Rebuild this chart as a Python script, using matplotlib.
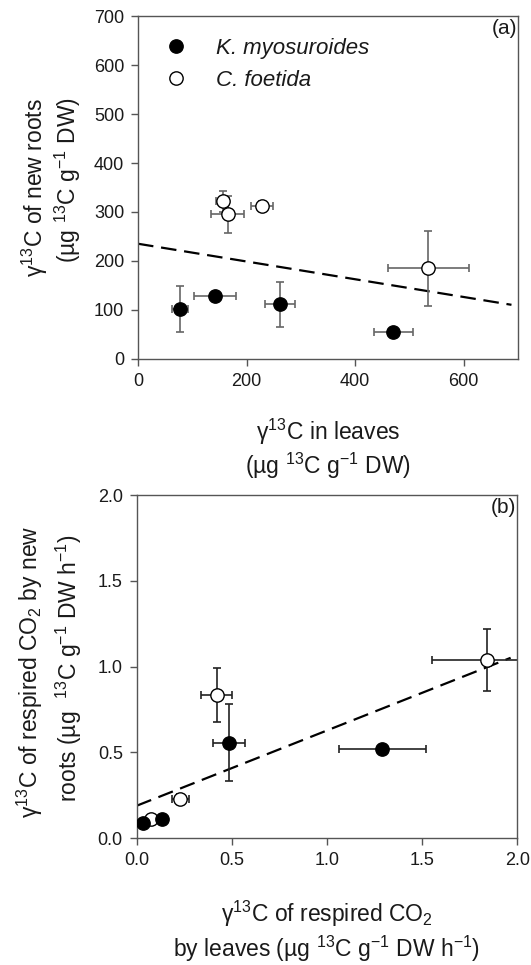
import numpy as np
import matplotlib
matplotlib.use("Agg")
import matplotlib.pyplot as plt

plt.rcParams['font.family'] = ['Liberation Sans', 'DejaVu Sans']
plt.rcParams['mathtext.fontset'] = 'custom'
plt.rcParams['mathtext.rm'] = 'Liberation Sans'
plt.rcParams['mathtext.it'] = 'Liberation Sans:italic'
plt.rcParams['mathtext.default'] = 'regular'

# ---- Panel (a) data ----
a_km_x = [77, 142, 262, 470]
a_km_xerr = [15, 38, 28, 36]
a_km_y = [102, 129, 112, 56]
a_km_yerr = [47, 8, 46, 6]

a_cf_x = [156, 165, 228, 535]
a_cf_xerr = [12, 31, 20, 74]
a_cf_y = [322, 295, 312, 185]
a_cf_yerr = [21, 37, 10, 77]

# ---- Panel (b) data ----
b_km_x = [0.485, 1.29, 0.135, 0.035]
b_km_xerr = [0.086, 0.228, 0.02, 0.01]
b_km_y = [0.557, 0.522, 0.114, 0.091]
b_km_yerr = [0.225, 0.02, 0.02, 0.02]

b_cf_x = [1.84, 0.42, 0.23, 0.073]
b_cf_xerr = [0.29, 0.08, 0.047, 0.02]
b_cf_y = [1.039, 0.835, 0.227, 0.11]
b_cf_yerr = [0.18, 0.16, 0.03, 0.02]

a_xticks = [0, 200, 400, 600]
a_yticks = [0, 100, 200, 300, 400, 500, 600, 700]
b_ticks = [0.0, 0.5, 1.0, 1.5, 2.0]

fig = plt.figure(figsize=(5.31, 9.65), dpi=100)
ax_a = fig.add_axes([0.2599, 0.6280, 0.7156, 0.3554])
ax_b = fig.add_axes([0.2574, 0.1313, 0.7168, 0.3557])

TXT = '#1a1a1a'
SPINE = '#555555'

def style(ax):
    for s in ax.spines.values():
        s.set_color(SPINE)
        s.set_linewidth(1.0)
    ax.tick_params(direction='out', length=5, width=1, color=SPINE,
                   labelsize=13, labelcolor=TXT, top=False, right=False, pad=5)

def draw(ax, kx, kxe, ky, kye, cx, cxe, cy, cye, ecol, fit_xmax):
    ax.errorbar(kx, ky, xerr=kxe, yerr=kye, fmt='none', ecolor=ecol,
                elinewidth=1.2, capsize=2.8, capthick=1.2, zorder=2)
    ax.errorbar(cx, cy, xerr=cxe, yerr=cye, fmt='none', ecolor=ecol,
                elinewidth=1.2, capsize=2.8, capthick=1.2, zorder=2)
    hk, = ax.plot(kx, ky, 'o', ms=9.6, mfc='black', mec='black', mew=1, ls='none', zorder=4)
    hc, = ax.plot(cx, cy, 'o', ms=9.6, mfc='white', mec='black', mew=1, ls='none', zorder=3)
    allx = np.array(kx + cx)
    ally = np.array(ky + cy)
    slope, icpt = np.polyfit(allx, ally, 1)
    xs = np.array([0, fit_xmax])
    ln, = ax.plot(xs, icpt + slope * xs, color='black', lw=1.6, zorder=1)
    ln.set_dashes([7, 3.5])
    return hk, hc

hk, hc = draw(ax_a, a_km_x, a_km_xerr, a_km_y, a_km_yerr,
              a_cf_x, a_cf_xerr, a_cf_y, a_cf_yerr, '#666666', 688)
ax_a.set_xlim(0, 700)
ax_a.set_ylim(0, 700)
ax_a.set_xticks(a_xticks)
ax_a.set_yticks(a_yticks)
style(ax_a)
ax_a.text(0.997, 0.99, '(a)', transform=ax_a.transAxes, ha='right', va='top',
          fontsize=15, color=TXT)
leg = ax_a.legend([hk, hc], ['K. myosuroides', 'C. foetida'], loc='upper left',
                  bbox_to_anchor=(0.047, 0.963), frameon=False,
                  prop={'style': 'italic', 'size': 16}, handlelength=1.0,
                  handletextpad=1.3, labelspacing=0.5, borderaxespad=0)
for t in leg.get_texts():
    t.set_color(TXT)

draw(ax_b, b_km_x, b_km_xerr, b_km_y, b_km_yerr,
     b_cf_x, b_cf_xerr, b_cf_y, b_cf_yerr, '#222222', 1.965)
ax_b.set_xlim(0, 2.0)
ax_b.set_ylim(0, 2.0)
ax_b.set_xticks(b_ticks)
ax_b.set_yticks(b_ticks)
ax_b.set_xticklabels(['%.1f' % v for v in b_ticks])
ax_b.set_yticklabels(['%.1f' % v for v in b_ticks])
style(ax_b)
ax_b.text(0.997, 0.99, '(b)', transform=ax_b.transAxes, ha='right', va='top',
          fontsize=15, color=TXT)

LS = 16.5
# Panel (a) labels
fig.text(328/531, 1 - 432/965, 'γ$^{13}$C in leaves', ha='center', va='center',
         fontsize=LS, color=TXT)
fig.text(328/531, 1 - 466/965, '(µg $^{13}$C g$^{-1}$ DW)', ha='center', va='center',
         fontsize=LS, color=TXT)
fig.text(35/531, 1 - 188/965, 'γ$^{13}$C of new roots', ha='center', va='center',
         rotation=90, fontsize=LS, color=TXT)
fig.text(68/531, 1 - 180/965, '(µg $^{13}$C g$^{-1}$ DW)', ha='center', va='center',
         rotation=90, fontsize=LS, color=TXT)

# Panel (b) labels
fig.text(327/531, 1 - 914/965, 'γ$^{13}$C of respired CO$_2$', ha='center', va='center',
         fontsize=LS, color=TXT)
fig.text(327/531, 1 - 949/965, 'by leaves (µg $^{13}$C g$^{-1}$ DW h$^{-1}$)',
         ha='center', va='center', fontsize=LS, color=TXT)
fig.text(30/531, 1 - 672/965, 'γ$^{13}$C of respired CO$_2$ by new', ha='center',
         va='center', rotation=90, fontsize=LS, color=TXT)
fig.text(69/531, 1 - 668/965, 'roots (µg  $^{13}$C g$^{-1}$ DW h$^{-1}$)', ha='center',
         va='center', rotation=90, fontsize=LS, color=TXT)

fig.savefig('out.png', dpi=100)
